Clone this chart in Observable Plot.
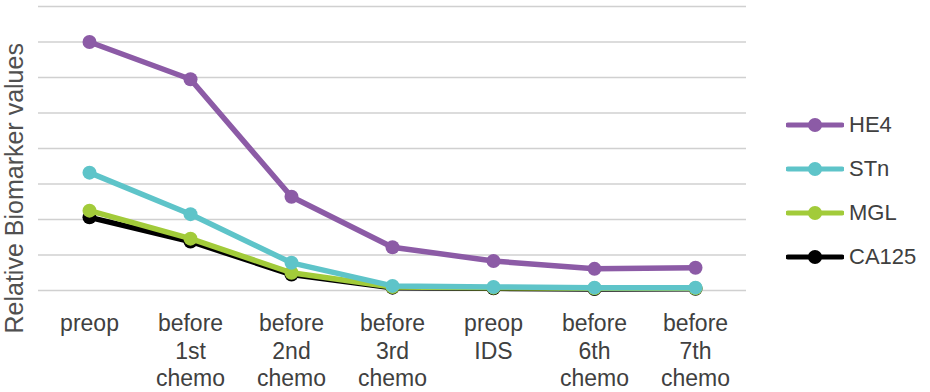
<!DOCTYPE html>
<html>
<head>
<meta charset="utf-8">
<script src="https://cdn.jsdelivr.net/npm/d3@7"></script>
<script src="https://cdn.jsdelivr.net/npm/@observablehq/plot@0.6"></script>
<style>
  html, body { margin: 0; padding: 0; background: #fff; }
  #wrap { position: relative; width: 930px; height: 392px; font-family: "Liberation Sans", Arial, sans-serif; }
  #legend { position: absolute; left: 786px; top: 103px; }
  .row { display: flex; align-items: center; height: 44px; font-size: 22px; color: #404040; }
  .row svg { margin-right: 5px; }
</style>
</head>
<body>
<div id="wrap"><div id="legend"></div></div>
<script>
// Time points along the treatment course (tick labels broken over lines)
const stages = [
  "preop",
  "before\n1st\nchemo",
  "before\n2nd\nchemo",
  "before\n3rd\nchemo",
  "preop\nIDS",
  "before\n6th\nchemo",
  "before\n7th\nchemo"
];

// Series names, in drawing order (bottom first) and legend order
const drawOrder = ["CA125", "MGL", "STn", "HE4"];
const legendOrder = ["HE4", "STn", "MGL", "CA125"];
const seriesColors = ["#000000", "#a2cb3a", "#5ec4c9", "#8c5ba6"];

// Relative biomarker values at each time point
const he4   = [7.0, 5.95, 2.64, 1.22, 0.83, 0.61, 0.64];
const stn   = [3.32, 2.15, 0.78, 0.13, 0.10, 0.08, 0.08];
const mgl   = [2.25, 1.46, 0.50, 0.10, 0.08, 0.06, 0.06];
const ca125 = [2.06, 1.38, 0.45, 0.08, 0.06, 0.04, 0.05];

const valuesBySeries = { HE4: he4, STn: stn, MGL: mgl, CA125: ca125 };

const rows = drawOrder.flatMap(name =>
  valuesBySeries[name].map((v, i) => ({ series: name, stage: stages[i], value: v }))
);

const seriesMarks = drawOrder.flatMap(name => {
  const data = rows.filter(d => d.series === name);
  return [
    Plot.line(data, { x: "stage", y: "value", stroke: "series", strokeWidth: 5.5, strokeLinejoin: "round", strokeLinecap: "round" }),
    Plot.dot(data, { x: "stage", y: "value", fill: "series", r: 7 })
  ];
});

const chart = Plot.plot({
  width: 760,
  height: 392,
  marginLeft: 38,
  marginRight: 14,
  marginTop: 6,
  marginBottom: 102,
  style: { fontFamily: "\"Liberation Sans\", Arial, sans-serif", color: "#404040", background: "transparent" },
  x: { type: "point", domain: stages, padding: 0.5 },
  y: { domain: [0, 8] },
  color: { domain: drawOrder, range: seriesColors },
  marks: [
    Plot.gridY(d3.range(0, 9), { stroke: "#d0d0d0", strokeOpacity: 1, strokeWidth: 1.6 }),
    Plot.axisX({ tickSize: 0, tickPadding: 21, fontSize: 23, lineHeight: 1.2, label: null, fill: "#404040" }),
    Plot.axisY({ ticks: [], label: null }),
    Plot.text(["Relative Biomarker values"], {
      text: d => d, frameAnchor: "bottom-left", rotate: -90, textAnchor: "start",
      dx: -16, dy: 43, fontSize: 25, fill: "#505050", style: "letter-spacing: 1.2px"
    }),
    ...seriesMarks
  ]
});

const wrap = document.getElementById("wrap");
chart.style.position = "absolute";
chart.style.left = "0px";
chart.style.top = "0px";
wrap.insertBefore(chart, wrap.firstChild);

// Legend: line-with-marker swatches beside the plot
const legend = d3.select("#legend");
legendOrder.forEach(name => {
  const color = seriesColors[drawOrder.indexOf(name)];
  const row = legend.append("div").attr("class", "row");
  const sw = row.append("svg").attr("width", 58).attr("height", 20);
  sw.append("line").attr("x1", 2).attr("x2", 56).attr("y1", 10).attr("y2", 10)
    .attr("stroke", color).attr("stroke-width", 5).attr("stroke-linecap", "round");
  sw.append("circle").attr("cx", 29).attr("cy", 10).attr("r", 7).attr("fill", color);
  row.append("span").text(name);
});
</script>
</body>
</html>
